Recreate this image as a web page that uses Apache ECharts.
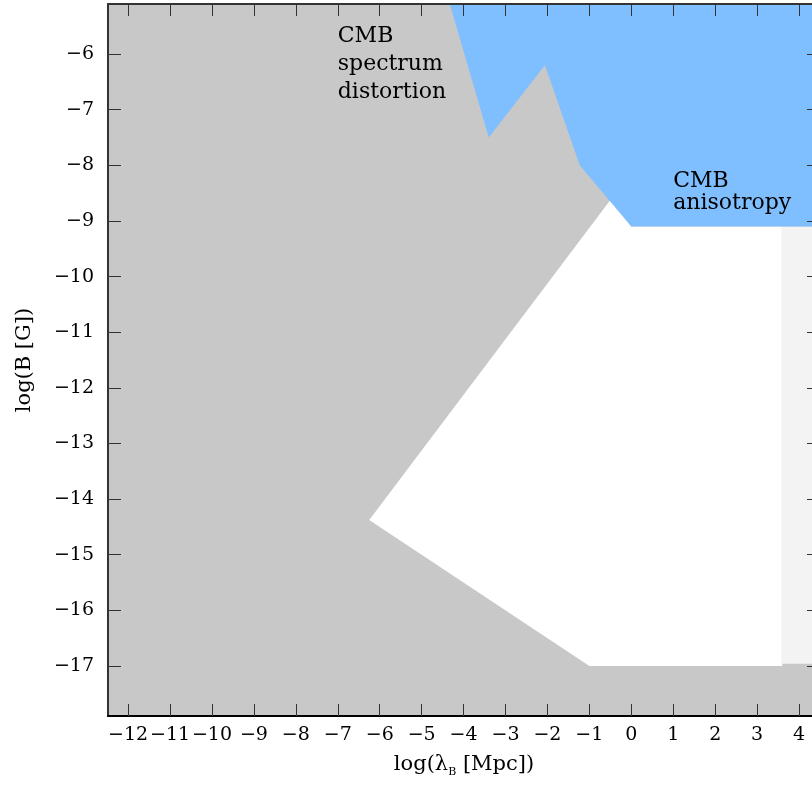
<!DOCTYPE html>
<html>
<head>
<meta charset="utf-8">
<script src="https://cdn.jsdelivr.net/npm/echarts@6/dist/echarts.min.js"></script>
<style>
html,body{margin:0;padding:0;background:#fff;overflow:hidden;width:812px;height:794px;}
#chart{width:830px;height:794px;}
</style>
</head>
<body>
<div id="chart"></div>
<script>
// ---- data (log10 units) ----
const xTicks = [-12,-11,-10,-9,-8,-7,-6,-5,-4,-3,-2,-1,0,1,2,3,4];
const yTicks = [-17,-16,-15,-14,-13,-12,-11,-10,-9,-8,-7,-6];
const xRange = [-12.48, 4.5];
const yRange = [-17.9, -5.1];

// excluded region (whole plane, shaded grey)
const excludedRegion = [[-12.48,-17.9],[4.5,-17.9],[4.5,-5.1],[-12.48,-5.1]];
// allowed region (white)
const allowedRegion = [[-6.25,-14.375],[-0.5,-8.625],[0,-9.1],[3.6,-9.1],[3.6,-17.0],[-1.0,-17.0]];
// beyond Hubble scale (very light grey)
const hubbleRegion = [[3.58,-9.1],[4.5,-9.1],[4.5,-16.96],[3.58,-16.96]];
// CMB limits (blue)
const cmbRegion = [[-4.33,-5.1],[-3.4,-7.5],[-2.06,-6.2],[-1.23,-8.0],[0.0,-9.1],[4.5,-9.1],[4.5,-5.1]];

const annotations = [
  {text:'CMB\nspectrum\ndistortion', at:[-7.0,-5.43], lh:28},
  {text:'CMB\nanisotropy', at:[1.0,-8.09], lh:22}
];

const FONT = 'DejaVu Serif';

function polygonSeries(points, color, z){
  return {
    type:'custom', coordinateSystem:'cartesian2d', xAxisIndex:0, yAxisIndex:0,
    clip:true, silent:true, z:z, data:[points[0]],
    renderItem:function(params, api){
      return {type:'polygon', shape:{points:points.map(p=>api.coord(p))}, style:{fill:color}};
    }
  };
}

function textSeries(items){
  return {
    type:'custom', coordinateSystem:'cartesian2d', xAxisIndex:0, yAxisIndex:0,
    silent:true, z:10, data:items.map(a=>a.at),
    renderItem:function(params, api){
      const a = items[params.dataIndex];
      const p = api.coord(a.at);
      return {type:'text', x:p[0], y:p[1],
        style:{text:a.text, fill:'#000', font:'22px "'+FONT+'"', lineHeight:a.lh,
               align:'left', verticalAlign:'top'}};
    }
  };
}

const minus = v => String(v).replace('-', '\u2212');

const chart = echarts.init(document.getElementById('chart'), null, {renderer:'canvas'});
chart.setOption({
  animation:false,
  backgroundColor:'#fff',
  grid:{left:108, top:4, width:712, height:712, containLabel:false},
  xAxis:[{
    type:'value', min:xRange[0], max:xRange[1], position:'bottom', z:20,
    axisLine:{show:true, onZero:false, lineStyle:{color:'#000', width:2}},
    axisTick:{show:true, inside:true, length:12, customValues:xTicks, lineStyle:{color:'#333', width:1}},
    axisLabel:{show:true, customValues:xTicks, formatter:minus, color:'#000', fontFamily:FONT, fontSize:19, margin:10},
    splitLine:{show:false},
    name:'{a|log(λ}{s|B}{a| [Mpc])}', nameLocation:'middle', nameGap:35,
    nameTextStyle:{rich:{
      a:{fontFamily:FONT, fontSize:21, color:'#000', lineHeight:27},
      s:{fontFamily:FONT, fontSize:11, color:'#000', lineHeight:12, verticalAlign:'bottom'}
    }}
  },{
    type:'value', min:xRange[0], max:xRange[1], position:'top', z:20,
    axisLine:{show:true, onZero:false, lineStyle:{color:'#333', width:2}},
    axisTick:{show:true, inside:true, length:12, customValues:xTicks, lineStyle:{color:'#333', width:1}},
    axisLabel:{show:false}, splitLine:{show:false}
  }],
  yAxis:[{
    type:'value', min:yRange[0], max:yRange[1], position:'left', z:20,
    axisLine:{show:true, onZero:false, lineStyle:{color:'#333', width:2}},
    axisTick:{show:true, inside:true, length:13, customValues:yTicks, lineStyle:{color:'#333', width:1}},
    axisLabel:{show:true, customValues:yTicks, formatter:minus, color:'#000', fontFamily:FONT, fontSize:19, margin:14},
    splitLine:{show:false},
    name:'log(B [G])', nameLocation:'middle', nameGap:73, nameRotate:90,
    nameTextStyle:{fontFamily:FONT, fontSize:21, color:'#000'}
  },{
    type:'value', min:yRange[0], max:yRange[1], position:'right', z:20,
    axisLine:{show:true, onZero:false, lineStyle:{color:'#333', width:2}},
    axisTick:{show:true, inside:true, length:13, customValues:yTicks, lineStyle:{color:'#333', width:1}},
    axisLabel:{show:false}, splitLine:{show:false}
  }],
  series:[
    polygonSeries(excludedRegion, '#c8c8c8', 1),
    polygonSeries(allowedRegion, '#ffffff', 2),
    polygonSeries(hubbleRegion, '#f3f3f3', 3),
    polygonSeries(cmbRegion, '#80bfff', 4),
    textSeries(annotations)
  ]
});
</script>
</body>
</html>
